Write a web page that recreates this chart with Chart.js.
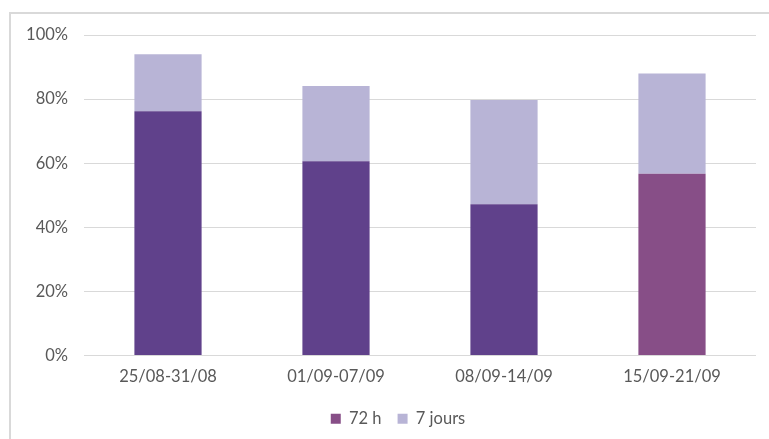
<!DOCTYPE html>
<html>
<head>
<meta charset="utf-8">
<script src="https://cdn.jsdelivr.net/npm/chart.js@4"></script>
<style>
  html, body { margin: 0; padding: 0; background: #fff; overflow: hidden; }
  #frame {
    position: absolute; left: 9px; top: 12px; width: 800px; height: 500px;
    border: 2px solid #d9d9d9; box-sizing: border-box;
  }
  #wrap { position: absolute; left: 0; top: 0; width: 769px; height: 439px; }
</style>
</head>
<body>
<div id="frame"></div>
<div id="wrap"><canvas id="chart"></canvas></div>
<script>
// Weekly share, stacked: 72 h part + extra part reached within 7 days
const categories = ['25/08-31/08', '01/09-07/09', '08/09-14/09', '15/09-21/09'];
const within72h = [76.2, 60.6, 47.2, 56.7];
const within7d = [17.8, 23.5, 32.5, 31.3];
const yTicks = [0, 20, 40, 60, 80, 100];

const DARK = '#60418b';
const PLUM = '#874e87';
const LIGHT = '#b8b4d6';
const TEXT = '#595959';

const font = { family: "Lato, 'Open Sans', sans-serif", size: 16.5 };

// legend in the original sits a bit right of the canvas centre
const legendShift = {
    id: 'legendShift',
    afterLayout(chart) {
        if (chart.legend) chart.legend.left += 40;
    },
};

new Chart(document.getElementById('chart'), {
    type: 'bar',
    data: {
        labels: categories,
        datasets: [
            {
                label: '72 h',
                data: within72h,
                // last week keeps the series colour, earlier weeks are darker
                backgroundColor: ctx => (ctx.dataIndex < 3) ? DARK : PLUM,
                barPercentage: 0.4,
                categoryPercentage: 1,
            },
            {
                label: '7 jours',
                data: within7d,
                backgroundColor: LIGHT,
                barPercentage: 0.4,
                categoryPercentage: 1,
            },
        ],
    },
    plugins: [legendShift],
    options: {
        responsive: true,
        maintainAspectRatio: false,
        animation: false,
        layout: { padding: { left: 0, right: 13, top: 35, bottom: 2 } },
        plugins: {
            legend: {
                position: 'bottom',
                labels: {
                    color: TEXT,
                    font: font,
                    boxWidth: 10,
                    boxHeight: 10,
                    padding: 16,
                    generateLabels: chart => {
                        const items = Chart.defaults.plugins.legend.labels.generateLabels(chart);
                        items[0].fillStyle = PLUM;
                        items[0].strokeStyle = PLUM;
                        return items;
                    },
                },
            },
            tooltip: { enabled: false },
        },
        scales: {
            x: {
                stacked: true,
                grid: { display: false, drawTicks: false },
                border: { display: false },
                ticks: { color: TEXT, font: font, padding: 11 },
                afterFit: s => { s.height = 39; },
            },
            y: {
                stacked: true,
                min: 0,
                max: 100,
                afterBuildTicks: s => { s.ticks = yTicks.map(v => ({ value: v })); },
                grid: { color: '#d9d9d9', drawTicks: false },
                border: { display: false },
                ticks: {
                    color: TEXT,
                    font: font,
                    padding: 16,
                    callback: v => v + '%',
                },
                afterFit: s => { s.width = 84; },
            },
        },
    },
});
</script>
</body>
</html>
